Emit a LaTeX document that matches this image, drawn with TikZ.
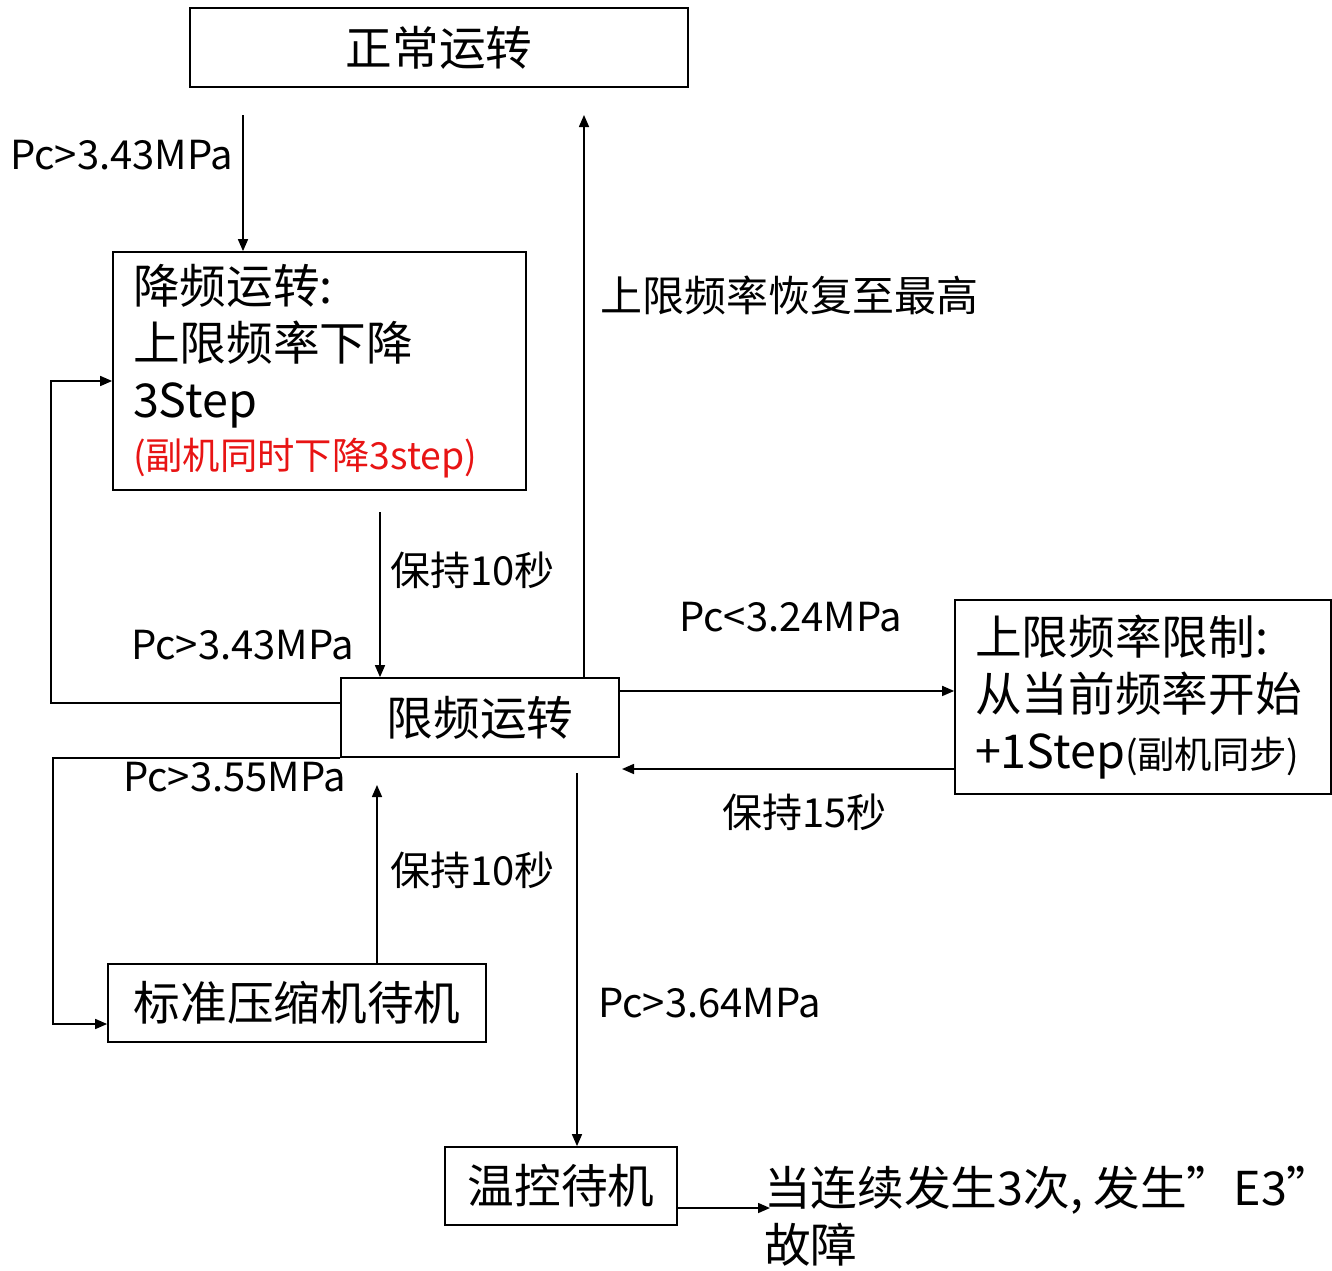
\documentclass[tikz,border=0pt]{standalone}
\usepackage{fontspec}
\setmainfont{Noto Sans CJK SC}
\usetikzlibrary{arrows.meta}
\definecolor{slavered}{RGB}{232,20,20}

\begin{document}
\begin{tikzpicture}[x=0.75pt,y=-0.75pt,
  >={Triangle[length=9pt,width=7.5pt]},
  statebox/.style={draw,line width=1.3pt,inner sep=0pt,font=\fontsize{35}{43}\selectfont,align=center},
  textbox/.style={draw,line width=1.3pt,inner xsep=15pt,inner ysep=0pt,font=\fontsize{35}{43}\selectfont,align=left},
  lbl/.style={font=\fontsize{30}{36}\selectfont,inner sep=0pt,anchor=west},
  ar/.style={->,line width=1.2pt}
]
\useasboundingbox (0,0) rectangle (1332,1271);

% TOP: normal and reduced operation
\node[statebox,minimum width=373.5pt,minimum height=59.25pt] (normal) at (439,47.5) {正常运转};
\node[textbox,text width=279.75pt,minimum height=178.5pt] (down) at (319.5,371) {降频运转:\\ 上限频率下降\\ 3Step\\[-4pt] {\color{slavered}\fontsize{28}{34}\selectfont(副机同时下降3step)}};

% MIDDLE: limited operation and upper-limit control
\node[statebox,minimum width=208.5pt,minimum height=59.25pt] (limit) at (480,717.5) {限频运转};
\node[textbox,text width=252pt,minimum height=145.5pt] (upper) at (1143,697) {上限频率限制:\\ 从当前频率开始\\ +1Step{\fontsize{28}{34}\selectfont(副机同步)}};

% BOTTOM: standby states and fault
\node[statebox,minimum width=283.5pt,minimum height=58.5pt] (std) at (297,1003) {标准压缩机待机};
\node[statebox,minimum width=174pt,minimum height=58.5pt] (temp) at (561,1186) {温控待机};
\node[font=\fontsize{35}{43}\selectfont,align=left,inner sep=0pt,anchor=west] (fault) at (764,1216) {当连续发生3次, 发生”E3”\\ 故障};

% free ends and bends
\coordinate (a1) at (243,115);
\coordinate (a2) at (584,115);
\coordinate (a3) at (380,512);
\coordinate (lx) at (51,0);
\coordinate (sx) at (53,0);
\coordinate (p6) at (622,769);
\coordinate (p8) at (377,785);
\coordinate (p9) at (577,773);
\coordinate (fin) at (770,1208);
\coordinate (lout) at ([yshift=10.9pt]limit.west);
\coordinate (dwin) at ([yshift=-7.5pt]down.west);
\coordinate (rout) at ([yshift=19.9pt]limit.east);
\coordinate (stdin) at ([yshift=-15.75pt]std.west);

% connectors
\draw[ar] (a1) -- (a1 |- down.north);
\draw[ar] (limit.north -| a2) -- (a2);
\draw[ar] (a3) -- (a3 |- limit.north);
\draw[ar] (lout) -- (lout -| lx) |- (dwin);
\draw[ar] (rout) -- (rout -| upper.west);
\draw[ar] (upper.west |- p6) -- (p6);
\draw[ar] (limit.south west) -- (limit.south west -| sx) |- (stdin);
\draw[ar] (std.north -| p8) -- (p8);
\draw[ar] (p9) -- (p9 |- temp.north);
\draw[ar] (temp.east |- fin) -- (fin);

% labels
\node[lbl] (l1) at (10,155) {Pc>3.43MPa};
\node[lbl,font=\fontsize{31.5}{38}\selectfont] (l2) at (600,295) {上限频率恢复至最高};
\node[lbl] (l3) at (390,570) {保持10秒};
\node[lbl] (l4) at (131,645) {Pc>3.43MPa};
\node[lbl] (l5) at (679,617) {Pc<3.24MPa};
\node[lbl] (l6) at (722,812) {保持15秒};
\node[lbl] (l7) at (123,777) {Pc>3.55MPa};
\node[lbl] (l8) at (390,870) {保持10秒};
\node[lbl] (l9) at (598,1003) {Pc>3.64MPa};
\end{tikzpicture}
\end{document}
